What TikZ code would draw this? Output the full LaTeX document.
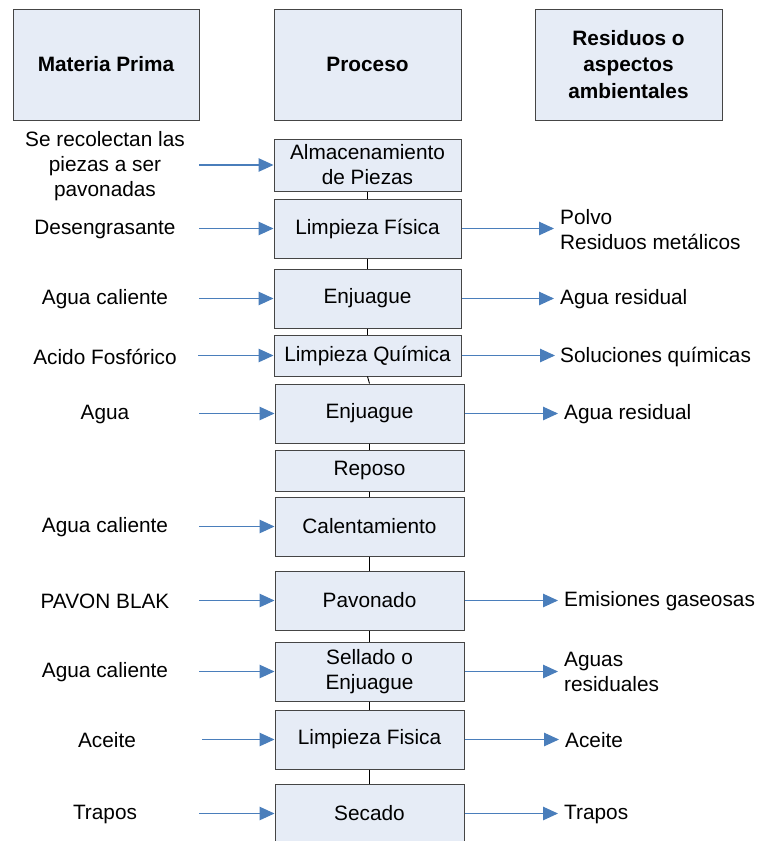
\documentclass[tikz,border=0pt]{standalone}
\usepackage{fontspec}
\setmainfont{Liberation Sans}
\usetikzlibrary{arrows.meta}
\definecolor{boxfill}{HTML}{E6ECF6}
\definecolor{boxline}{HTML}{454545}
\definecolor{flowblue}{HTML}{4A7EBB}
\begin{document}
\begin{tikzpicture}[x=1pt,y=-1pt,
  every node/.style={font=\fontsize{20.8}{25}\selectfont, inner sep=0pt},
  headbox/.style={draw=boxline, fill=boxfill, line width=1pt, minimum height=111pt,
    align=center, font=\bfseries\fontsize{20.8}{26.5}\selectfont},
  pbox/.style={draw=boxline, fill=boxfill, line width=1pt, align=center},
  intext/.style={align=center},
  outtext/.style={anchor=west, align=left},
  feed/.style={draw=flowblue, line width=1.1pt, -{Triangle[length=15pt,width=13.5pt]}},
  link/.style={draw=black, line width=0.9pt}
]
\clip (0,0) rectangle (757,841);

% column headers
\node[headbox, minimum width=186pt] (hmat) at (106,64.5) {Materia Prima};
\node[headbox, minimum width=187pt] (hpro) at (367.5,64.5) {Proceso};
\node[headbox, minimum width=187pt] (hres) at (628.5,64.5) {Residuos o\\aspectos\\ambientales};

% process steps
\node[pbox, minimum width=187pt, minimum height=52pt] (p1) at (367.5,165) {Almacenamiento\\de Piezas};
\node[pbox, minimum width=187pt, minimum height=59pt] (p2) at (367.5,228.5) {Limpieza Física};
\node[pbox, minimum width=187pt, minimum height=59pt] (p3) at (367.5,298.5) {Enjuague};
\node[pbox, minimum width=187pt, minimum height=41pt] (p4) at (367.5,355.5) {Limpieza Química};
\node[pbox, minimum width=189pt, minimum height=59pt] (p5) at (369.5,413.5) {Enjuague};
\node[pbox, minimum width=189pt, minimum height=41pt] (p6) at (369.5,470.5) {Reposo};
\node[pbox, minimum width=189pt, minimum height=59pt] (p7) at (369.5,526.5) {Calentamiento};
\node[pbox, minimum width=189pt, minimum height=59pt] (p8) at (369.5,600.5) {Pavonado};
\node[pbox, minimum width=189pt, minimum height=59pt] (p9) at (369.5,671.5) {Sellado o\\Enjuague};
\node[pbox, minimum width=189pt, minimum height=59pt] (p10) at (369.5,739.5) {Limpieza Fisica};
\node[pbox, minimum width=189pt, minimum height=59pt] (p11) at (369.5,813.5) {Secado};

% links between consecutive steps
\draw[link] (p1.south) -- (p2.north);
\draw[link] (p2.south) -- (p3.north);
\draw[link] (p3.south) -- (p4.north);
\draw[link] (p4.south) -- (p5.north);
\draw[link] (p5.south) -- (p6.north);
\draw[link] (p6.south) -- (p7.north);
\draw[link] (p7.south) -- (p8.north);
\draw[link] (p8.south) -- (p9.north);
\draw[link] (p9.south) -- (p10.north);
\draw[link] (p10.south) -- (p11.north);

% raw materials
\node[intext] (m1) at (105,166) {Se recolectan las\\piezas a ser\\pavonadas};
\node[intext] (m2) at (105,229.5) {Desengrasante};
\node[intext] (m3) at (105,299.5) {Agua caliente};
\node[intext] (m4) at (105,356.5) {Acido Fosfórico};
\node[intext] (m5) at (105,414.5) {Agua};
\node[intext] (m7) at (105,527.5) {Agua caliente};
\node[intext] (m8) at (105,601.5) {PAVON BLAK};
\node[intext] (m9) at (105,672.5) {Agua caliente};
\node[intext] (m10) at (107,740.5) {Aceite};
\node[intext] (m11) at (105,814.5) {Trapos};

\coordinate (i1) at (199,165);
\coordinate (i2) at (199,228.5);
\coordinate (i3) at (199,298.5);
\coordinate (i4) at (198,355.5);
\coordinate (i5) at (199,413.5);
\coordinate (i7) at (199,526.5);
\coordinate (i8) at (199,600.5);
\coordinate (i9) at (199,671.5);
\coordinate (i10) at (202,739.5);
\coordinate (i11) at (199,813.5);

\draw[feed] (i1) -- (p1.west);
\draw[feed] (i2) -- (p2.west);
\draw[feed] (i3) -- (p3.west);
\draw[feed] (i4) -- (p4.west);
\draw[feed] (i5) -- (p5.west);
\draw[feed] (i7) -- (p7.west);
\draw[feed] (i8) -- (p8.west);
\draw[feed] (i9) -- (p9.west);
\draw[feed] (i10) -- (p10.west);
\draw[feed] (i11) -- (p11.west);

% wastes and environmental aspects
\coordinate (o2) at (554,228.5);
\coordinate (o3) at (554,298.5);
\coordinate (o4) at (555,355.5);
\coordinate (o5) at (558,413.5);
\coordinate (o8) at (558,600.5);
\coordinate (o9) at (558,671.5);
\coordinate (o10) at (559,739.5);
\coordinate (o11) at (558,813.5);

\draw[feed] (p2.east) -- (o2);
\draw[feed] (p3.east) -- (o3);
\draw[feed] (p4.east) -- (o4);
\draw[feed] (p5.east) -- (o5);
\draw[feed] (p8.east) -- (o8);
\draw[feed] (p9.east) -- (o9);
\draw[feed] (p10.east) -- (o10);
\draw[feed] (p11.east) -- (o11);

\node[outtext] (w2) at (560,229.5) {Polvo\\Residuos metálicos};
\node[outtext] (w3) at (560,299.5) {Agua residual};
\node[outtext] (w4) at (560,356.5) {Soluciones químicas};
\node[outtext] (w5) at (564,414.5) {Agua residual};
\node[outtext] (w8) at (564,601.5) {Emisiones gaseosas};
\node[outtext] (w9) at (564,671.5) {Aguas\\residuales};
\node[outtext] (w10) at (565,740.5) {Aceite};
\node[outtext] (w11) at (564,814.5) {Trapos};
\end{tikzpicture}
\end{document}
